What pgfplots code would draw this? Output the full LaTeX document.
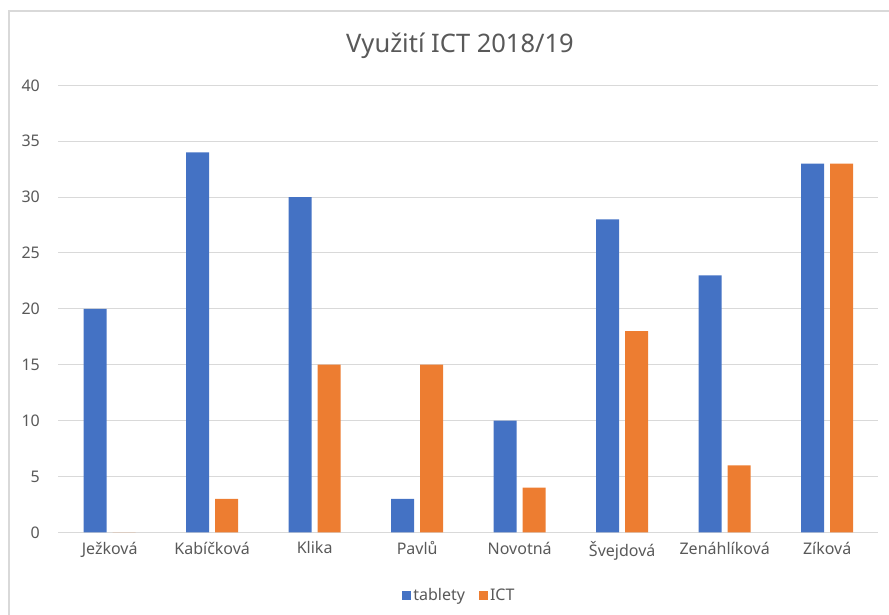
\documentclass[border=0pt]{standalone}
\usepackage{pgfplots}
\pgfplotsset{compat=1.18}
\usepackage{fontspec}
\setmainfont{Noto Sans}
\definecolor{cblue}{HTML}{4472C4}
\definecolor{corange}{HTML}{ED7D31}
\definecolor{cgrid}{HTML}{D9D9D9}
\definecolor{ctext}{HTML}{595959}
\begin{document}
\begin{tikzpicture}[x=1pt,y=1pt]
\draw[cgrid, line width=1.2pt] (9,0) -- (9,604) -- (889,604);
\node[text=ctext, font=\fontsize{25.5}{30}\selectfont] at (460,569) {Využití ICT 2018/19};
\begin{axis}[
  at={(57,74)}, anchor=south west,
  scale only axis, width=820pt, height=447pt,
  ymin=0, ymax=40, ytick={0,5,...,40},
  xmin=-0.5, xmax=7.5,
  xtick={0,...,7},
  xticklabels={Ježková,Kabíčková,Klika,Pavlů,Novotná,Švejdová,Zenáhlíková,Zíková},
  ybar, bar width=0.224, bar shift auto=false,
  axis line style={draw=none},
  axis x line*=bottom,
  ymajorgrids, grid style={cgrid, line width=1pt},
  major tick length=0pt,
  tick label style={text=ctext, font=\fontsize{16}{19}\selectfont},
  /pgf/number format/assume math mode=true,
  every y tick label/.append style={anchor=east, xshift=-15pt},
  xticklabel style={yshift=-6pt},
  legend columns=2,
  legend style={draw=none, at={(0.489,-0.141)}, anchor=center, font=\fontsize{16}{19}\selectfont, text=ctext, /tikz/every even column/.append style={column sep=12pt}},
  legend image code/.code={\fill[#1] (-1pt,-4.5pt) rectangle (8pt,4.5pt);},
  clip=false,
]
\draw[cgrid, line width=1pt] (axis cs:-0.5,0) -- (axis cs:7.5,0);
\addplot[fill=cblue, draw=none, bar shift=-0.141] coordinates {(0,20) (1,34) (2,30) (3,3) (4,10) (5,28) (6,23) (7,33)};
\addplot[fill=corange, draw=none, bar shift=0.141] coordinates {(0,0) (1,3) (2,15) (3,15) (4,4) (5,18) (6,6) (7,33)};
\legend{tablety,ICT}
\end{axis}
\pgfresetboundingbox
\path[use as bounding box] (0,0) rectangle (889,615);
\end{tikzpicture}
\end{document}
